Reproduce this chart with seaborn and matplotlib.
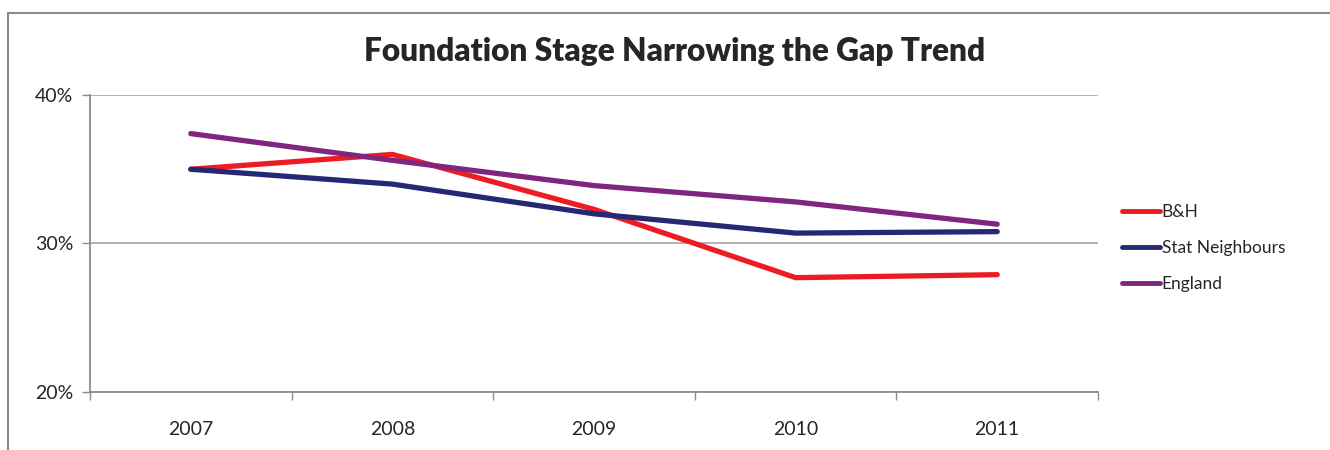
import matplotlib
matplotlib.use("Agg")
import matplotlib.pyplot as plt
import matplotlib.patches as mpatches
from matplotlib.ticker import FixedLocator, FuncFormatter
import pandas as pd
import seaborn as sns

years = ["2007", "2008", "2009", "2010", "2011"]
bh = [35.0, 36.0, 32.3, 27.7, 27.9]
stat_neighbours = [35.0, 34.0, 32.0, 30.7, 30.8]
england = [37.4, 35.6, 33.9, 32.8, 31.3]

series = ["B&H", "Stat Neighbours", "England"]
colors = ["#ED1C24", "#262874", "#7F267F"]

df = pd.DataFrame({"year": years * 3,
                   "value": bh + stat_neighbours + england,
                   "series": [s for s in series for _ in years]})

sns.set_theme(style="white")
plt.rcParams["font.family"] = ["Lato", "DejaVu Sans"]

fig = plt.figure(figsize=(13.3, 4.5), dpi=100)
ax = fig.add_axes([90 / 1330, 1 - 392 / 450, 1008 / 1330, 297 / 450])

sns.lineplot(data=df, x="year", y="value", hue="series", palette=colors,
             hue_order=series, linewidth=3.8, sort=False, ax=ax,
             solid_capstyle="round")

ax.set_xlim(-0.5, 4.5)
ax.set_ylim(20, 40)
ax.yaxis.set_major_locator(FixedLocator([20, 30, 40]))
ax.yaxis.set_major_formatter(FuncFormatter(lambda v, p: f"{v:.0f}%"))
ax.grid(axis="y", color="#ababab", linewidth=1.3)
ax.set_axisbelow(True)

ax.set_xticks(range(len(years)))
ax.set_xticklabels(years)
ax.set_xticks([i - 0.5 for i in range(len(years) + 1)], minor=True)
ax.tick_params(axis="x", which="major", length=0, pad=21, labelsize=14)
ax.tick_params(axis="x", which="minor", length=6, width=1, color="#8c8c8c",
               direction="out", bottom=True)
ax.tick_params(axis="y", length=6, width=1, color="#8c8c8c", direction="out",
               left=True, labelsize=14, pad=6)
for s in ["top", "right"]:
    ax.spines[s].set_visible(False)
for s in ["left", "bottom"]:
    ax.spines[s].set_color("#8c8c8c")
    ax.spines[s].set_linewidth(1.3)
ax.set_xlabel("")
ax.set_ylabel("")

leg = ax.legend(loc="upper left", bbox_to_anchor=(1.008, 0.685), frameon=False,
                fontsize=12.5, handlelength=2.2, handletextpad=0.1,
                labelspacing=1.15)
for line in leg.get_lines():
    line.set_linewidth(3.5)

fig.text(675 / 1330, 1 - 51 / 450, "Foundation Stage Narrowing the Gap Trend",
         ha="center", va="center", fontsize=22.8, fontweight="heavy")

fig.patches.append(mpatches.Rectangle((8 / 1330, -0.1), 1.2, 1 - 13 / 450 + 0.1,
                                      transform=fig.transFigure, fill=False,
                                      edgecolor="#8c8c8c", linewidth=1.5))

fig.savefig("out.png", dpi=100)
